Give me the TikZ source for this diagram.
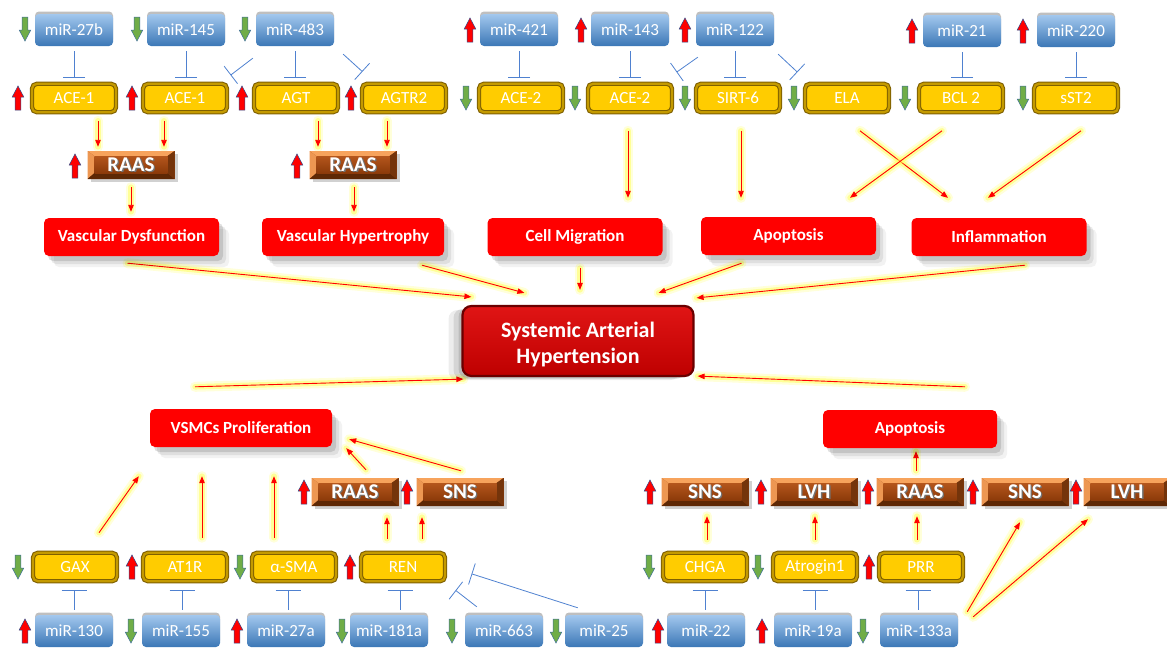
\documentclass[tikz,border=0pt]{standalone}
\usepackage{fontspec}
\setmainfont{Carlito}
\usetikzlibrary{arrows.meta,shadows,calc}
\pgfdeclarelayer{bg}
\pgfsetlayers{bg,main}
\definecolor{mirL}{HTML}{A3C8EE}
\definecolor{mirD}{HTML}{3B77B6}
\definecolor{gold}{HTML}{FFCC00}
\definecolor{goldD}{HTML}{7F6000}
\definecolor{goldM}{HTML}{C49A00}
\definecolor{redbox}{HTML}{FF0000}
\definecolor{inhb}{HTML}{4F81D0}
\definecolor{brL}{HTML}{F7A35C}
\definecolor{brT}{HTML}{B4561C}
\definecolor{brB}{HTML}{8C3A0A}
\definecolor{brD}{HTML}{5E2805}
\definecolor{upR}{HTML}{FF0000}
\definecolor{upO}{HTML}{2F4F8F}
\definecolor{dnG}{HTML}{70AD47}
\definecolor{dnO}{HTML}{41719C}
\definecolor{glow}{HTML}{FFFF55}
\definecolor{sahT}{HTML}{E01515}
\definecolor{sahB}{HTML}{BE0000}
\definecolor{sahD}{HTML}{6A0000}
\newcommand\txtsh[1]{\rlap{\kern1.3pt\raisebox{-1.3pt}{\color{black!55}#1}}#1}
\begin{document}
\begin{tikzpicture}[x=1pt,y=-1pt,
  softsh/.style={drop shadow={shadow xshift=10pt,shadow yshift=-11pt,opacity=0.05,fill=black},
                 drop shadow={shadow xshift=7pt,shadow yshift=-8pt,opacity=0.08,fill=black},
                 drop shadow={shadow xshift=4pt,shadow yshift=-5pt,opacity=0.12,fill=black}},
  mirbox/.style={rectangle, rounded corners=4pt, minimum width=78pt, minimum height=32pt, inner sep=0pt,
     top color=mirL, bottom color=mirD, text=white, font=\fontsize{17}{20}\selectfont,
     drop shadow={shadow xshift=0pt,shadow yshift=2.5pt,opacity=0.25,fill=black}},
  genebox/.style={rectangle, rounded corners=5pt, minimum width=84pt, minimum height=28.5pt, inner sep=0pt,
     fill=gold, draw=goldD, line width=1.1pt, double=goldM, double distance=2.2pt,
     text=white, font=\fontsize{17}{20}\selectfont},
  brownbox/.style={rectangle, minimum width=87pt, minimum height=28pt, inner sep=0pt, fill=brB,
     text=white, font=\bfseries\fontsize{21}{23}\selectfont,
     drop shadow={shadow xshift=3pt,shadow yshift=-3pt,opacity=0.18,fill=black},
     path picture={
       \fill[brL] (path picture bounding box.north west) -- (path picture bounding box.north east)
          -- ([xshift=-7pt,yshift=-5pt]path picture bounding box.north east)
          -- ([xshift=7pt,yshift=-5pt]path picture bounding box.north west) -- cycle;
       \fill[brL!85!brT] (path picture bounding box.north west) -- ([xshift=7pt,yshift=-5pt]path picture bounding box.north west)
          -- ([xshift=7pt,yshift=6pt]path picture bounding box.south west) -- (path picture bounding box.south west) -- cycle;
       \fill[brD] (path picture bounding box.south west) -- ([xshift=7pt,yshift=6pt]path picture bounding box.south west)
          -- ([xshift=-7pt,yshift=6pt]path picture bounding box.south east) -- (path picture bounding box.south east) -- cycle;
       \fill[brD!75!brT] (path picture bounding box.south east) -- ([xshift=-7pt,yshift=6pt]path picture bounding box.south east)
          -- ([xshift=-7pt,yshift=-5pt]path picture bounding box.north east) -- (path picture bounding box.north east) -- cycle;
       \shade[top color=brT, bottom color=brB] ([xshift=7pt,yshift=-5pt]path picture bounding box.north west)
          rectangle ([xshift=-7pt,yshift=6pt]path picture bounding box.south east);
     }},
  redbox/.style={rectangle, rounded corners=5pt, fill=redbox, minimum height=38pt, inner sep=0pt,
     text=white, font=\bfseries\fontsize{17}{19}\selectfont, softsh},
  sahbox/.style={rectangle, rounded corners=9pt, minimum width=231pt, minimum height=70pt, inner sep=0pt,
     top color=sahT, bottom color=sahB, draw=sahD, line width=2.2pt, text=white, align=center,
     font=\bfseries\fontsize{22}{26}\selectfont,
     drop shadow={shadow xshift=-14pt,shadow yshift=-4pt,opacity=0.07,fill=black},
     drop shadow={shadow xshift=-9pt,shadow yshift=-3pt,opacity=0.10,fill=black},
     drop shadow={shadow xshift=-4pt,shadow yshift=-2pt,opacity=0.12,fill=black}},
  redarr/.style={draw=red, line width=0.9pt, -{Triangle[length=7pt,width=5.5pt]},
     preaction={draw=glow, line width=10pt, opacity=0.22, arrows=-, line cap=round},
     preaction={draw=glow, line width=5.5pt, opacity=0.5, arrows=-, line cap=round}},
  inh/.style={draw=inhb, line width=0.8pt, -{Bar[width=22pt,line width=0.8pt]}, shorten <=5pt, shorten >=5pt},
  inhs/.style={draw=inhb, line width=0.8pt, -{Bar[width=22pt,line width=0.8pt]}},
  inhb/.style={draw=inhb, line width=0.8pt, -{Bar[width=25pt,line width=0.8pt]}, shorten <=5pt, shorten >=8pt},
  upind/.pic={\filldraw[fill=upR, draw=upO, line width=0.5pt] (-2.8,12) -- (2.8,12) -- (2.8,-1) -- (5.8,-1) -- (0,-12) -- (-5.8,-1) -- (-2.8,-1) -- cycle;},
  dnind/.pic={\filldraw[fill=dnG, draw=dnO, line width=0.5pt] (-2.8,-12) -- (2.8,-12) -- (2.8,1) -- (5.8,1) -- (0,12) -- (-5.8,1) -- (-2.8,1) -- cycle;}
]
\useasboundingbox (0,0) rectangle (1167,648);

% ---------- top miRNAs ----------
\node[mirbox] (m27b) at (74,30) {miR-27b};
\node[mirbox] (m145) at (186,30) {miR-145};
\node[mirbox] (m483) at (295,30) {miR-483};
\node[mirbox] (m421) at (519,30) {miR-421};
\node[mirbox] (m143) at (630,30) {miR-143};
\node[mirbox] (m122) at (735,30) {miR-122};
\node[mirbox] (m21) at (962,31) {miR-21};
\node[mirbox] (m220) at (1076,31) {miR-220};

% ---------- top genes ----------
\node[genebox] (ace1a) at (74,98) {ACE-1};
\node[genebox] (ace1b) at (185,98) {ACE-1};
\node[genebox] (agt) at (296,98) {AGT};
\node[genebox] (agtr2) at (404,98) {AGTR2};
\node[genebox] (ace2a) at (521,98) {ACE-2};
\node[genebox] (ace2b) at (630,98) {ACE-2};
\node[genebox] (sirt6) at (738,98) {SIRT-6};
\node[genebox] (ela) at (847,98) {ELA};
\node[genebox] (bcl2) at (961,98) {BCL 2};
\node[genebox] (sst2) at (1076,98) {sST2};

% ---------- top RAAS ----------
\node[brownbox] (raas1) at (131,165) {\txtsh{RAAS}};
\node[brownbox] (raas2) at (353,165) {\txtsh{RAAS}};

% ---------- effect boxes ----------
\node[redbox, minimum width=175pt] (vd) at (131.5,237) {Vascular Dysfunction};
\node[redbox, minimum width=182pt] (vh) at (353,237) {Vascular Hypertrophy};
\node[redbox, minimum width=175pt] (cm) at (575,237) {Cell Migration};
\node[redbox, minimum width=175pt] (apo1) at (788.5,236) {Apoptosis};
\node[redbox, minimum width=175pt] (infl) at (999,237) {Inflammation};

\node[sahbox] (sah) at (578,341) {\rule{0pt}{23pt}Systemic Arterial\\Hypertension};

\node[redbox, minimum width=182pt] (vsmc) at (241,428) {VSMCs Proliferation};
\node[redbox, minimum width=174pt] (apo2) at (910,429) {Apoptosis};

% ---------- bottom brown ----------
\node[brownbox] (raasb) at (355,492) {\txtsh{RAAS}};
\node[brownbox] (snsb) at (460,492) {\txtsh{SNS}};
\node[brownbox] (sns2) at (705,492) {\txtsh{SNS}};
\node[brownbox] (lvh1) at (814,492) {\txtsh{LVH}};
\node[brownbox] (raas3) at (920,492) {\txtsh{RAAS}};
\node[brownbox] (sns3) at (1025,492) {\txtsh{SNS}};
\node[brownbox] (lvh2) at (1127,492) {\txtsh{LVH}};

% ---------- bottom genes ----------
\node[genebox] (gax) at (75,567) {GAX};
\node[genebox] (at1r) at (185,567) {AT1R};
\node[genebox] (asma) at (294,567) {α-SMA};
\node[genebox] (ren) at (403,567) {REN};
\node[genebox] (chga) at (705,567) {CHGA};
\node[genebox] (atro) at (815,567) {Atrogin1};
\node[genebox] (prr) at (921,567) {PRR};

% ---------- bottom miRNAs ----------
\node[mirbox] (m130) at (74,631) {miR-130};
\node[mirbox] (m155) at (181,631) {miR-155};
\node[mirbox] (m27a) at (286,631) {miR-27a};
\node[mirbox] (m181a) at (389,631) {miR-181a};
\node[mirbox] (m663) at (504,631) {miR-663};
\node[mirbox] (m25) at (604,631) {miR-25};
\node[mirbox] (m22) at (706,631) {miR-22};
\node[mirbox] (m19a) at (813,631) {miR-19a};
\node[mirbox] (m133a) at (919,631) {miR-133a};

% ---------- indicators ----------
\foreach \x/\y in {470/30,581/30,685/30,912/31,1023/31,
                   18/98,132/98,242/98,351/98,
                   75/166,297/166,
                   304/492,407/492,650/492,761/492,868/492,973/492,1076/492,
                   132/567,350/567,869/567,
                   25/631,237/631,658/631,762/631}
  \pic at (\x,\y) {upind};
\foreach \x/\y in {25/29,137/29,245/29,
                   466/98,575/98,685/98,794/98,905/98,1023/98,
                   18/567,240/567,649/567,758/567,
                   131/631,342/631,452/631,556/631,863/631}
  \pic at (\x,\y) {dnind};

\begin{pgfonlayer}{bg}
% ---------- inhibitions top ----------
\draw[inh] (m27b.south) -- (m27b.south |- ace1a.north);
\draw[inh] (m145.south) -- (m145.south |- ace1b.north);
\draw[inh] (m483.south) -- (m483.south |- agt.north);
\draw[inh] (m421.south) -- (m421.south |- ace2a.north);
\draw[inh] (m143.south) -- (m143.south |- ace2b.north);
\draw[inh] (m122.south) -- (m122.south |- sirt6.north);
\draw[inh] (m21.south) -- (m21.south |- bcl2.north);
\draw[inh] (m220.south) -- (m220.south |- sst2.north);
\draw[inhs] ($(m483.south west)+(-3,12)$) -- ($(ace1b.north east)+(3,-8)$);
\draw[inhs] ($(m483.south east)+(9,8)$) -- ($(agtr2.north west)+(1,-11.5)$);
\draw[inhs] ($(m122.south west)+(2,11)$) -- ($(ace2b.north east)+(4,-11)$);
\draw[inhs] ($(m122.south east)+(4,8)$) -- ($(ela.north west)+(-7,-11)$);

% ---------- inhibitions bottom ----------
\draw[inhb] (m130.north) -- (m130.north |- gax.south);
\draw[inhb] ($(m155.north)+(1,0)$) -- ($(m155.north |- at1r.south)+(1,0)$);
\draw[inhb] ($(m27a.north)+(2,0)$) -- ($(m27a.north |- asma.south)+(2,0)$);
\draw[inhb] ($(m181a.north)+(11,0)$) -- ($(m181a.north |- ren.south)+(11,0)$);
\draw[inhb] ($(m22.north)+(-1,0)$) -- ($(m22.north |- chga.south)+(-1,0)$);
\draw[inhb] ($(m19a.north)+(2,0)$) -- ($(m19a.north |- atro.south)+(2,0)$);
\draw[inhb] ($(m133a.north)+(-1,0)$) -- ($(m133a.north |- prr.south)+(-1,0)$);
\draw[inhs] ($(m663.north west)+(12,-8)$) -- ($(ren.south east)+(10,8.5)$);
\draw[inhs] ($(m25.north west)+(13,-7)$) -- ($(ren.south east)+(26,-8)$);

% ---------- red arrows top ----------
\draw[redarr] ($(ace1a.south)+(24,8)$) -- ($(raas1.north)+(-33,-4)$);
\draw[redarr] ($(ace1b.south)+(-21,8)$) -- ($(raas1.north)+(33,-4)$);
\draw[redarr] ($(agt.south)+(22,8)$) -- ($(raas2.north)+(-35,-4)$);
\draw[redarr] ($(agtr2.south)+(-17,8)$) -- ($(raas2.north)+(34,-4)$);
\draw[redarr] ($(raas1.south)+(0,8)$) -- ($(vd.north)+(-0.5,-6)$);
\draw[redarr] ($(raas2.south)+(1,8)$) -- ($(vh.north)+(1,-6)$);
\draw[redarr] ($(ace2b.south)+(-2,18)$) -- ($(cm.north)+(53,-20)$);
\draw[redarr] ($(sirt6.south)+(3,18)$) -- ($(apo1.north)+(-47.5,-19)$);
\draw[redarr] ($(ela.south)+(13,18)$) -- ($(infl.north)+(-51,-20)$);
\draw[redarr] ($(bcl2.south)+(-19,18)$) -- ($(apo1.north)+(61.5,-19)$);
\draw[redarr] ($(sst2.south)+(5,18)$) -- ($(infl.north)+(-11,-20)$);

% ---------- into SAH ----------
\draw[redarr] ($(vd.south)+(-4,7)$) -- ($(sah.north west)+(10,-8)$);
\draw[redarr] ($(vh.south)+(69,9)$) -- ($(sah.north west)+(63,-12)$);
\draw[redarr] ($(cm.south)+(5,12)$) -- ($(sah.north)+(2,-15)$);
\draw[redarr] ($(apo1.south)+(-47,8)$) -- ($(sah.north east)+(-36,-12)$);
\draw[redarr] ($(infl.south)+(26,9)$) -- ($(sah.north east)+(2,-7)$);
\draw[redarr] ($(vsmc.north)+(-46,-22)$) -- ($(sah.south west)+(2,2)$);
\draw[redarr] ($(apo2.north)+(55,-23)$) -- ($(sah.south east)+(3,-1)$);

% ---------- bottom left ----------
\draw[redarr] ($(raasb.north)+(11,-8)$) -- ($(vsmc.south east)+(14,1)$);
\draw[redarr] ($(snsb.north)+(1,-7)$) -- ($(vsmc.south east)+(17,-8)$);
\draw[redarr] ($(gax.north)+(24,-19.5)$) -- ($(vsmc.south west)+(-11,29)$);
\draw[redarr] ($(at1r.north)+(17,-14.5)$) -- ($(vsmc.south)+(-39,29)$);
\draw[redarr] ($(asma.north)+(-20,-14.5)$) -- ($(vsmc.south)+(33,29)$);
\draw[redarr] ($(ren.north)+(-16,-13.5)$) -- ($(raasb.south)+(32,11)$);
\draw[redarr] ($(ren.north)+(19,-13.5)$) -- ($(snsb.south)+(-38,11)$);

% ---------- bottom right ----------
\draw[redarr] ($(chga.north)+(2,-12.5)$) -- ($(sns2.south)+(2,10)$);
\draw[redarr] ($(atro.north)+(0,-12.5)$) -- ($(lvh1.south)+(1,10)$);
\draw[redarr] ($(prr.north)+(-4,-12.5)$) -- ($(raas3.south)+(-3,10)$);
\draw[redarr] ($(raas3.north)+(-4,-7)$) -- ($(apo2.south)+(6,3)$);
\draw[redarr] ($(m133a.north east)+(9,-3)$) -- ($(sns3.south)+(-5,16)$);
\draw[redarr] ($(m133a.north east)+(15,2)$) -- ($(lvh2.south)+(-39,13)$);
\end{pgfonlayer}
\end{tikzpicture}
\end{document}
